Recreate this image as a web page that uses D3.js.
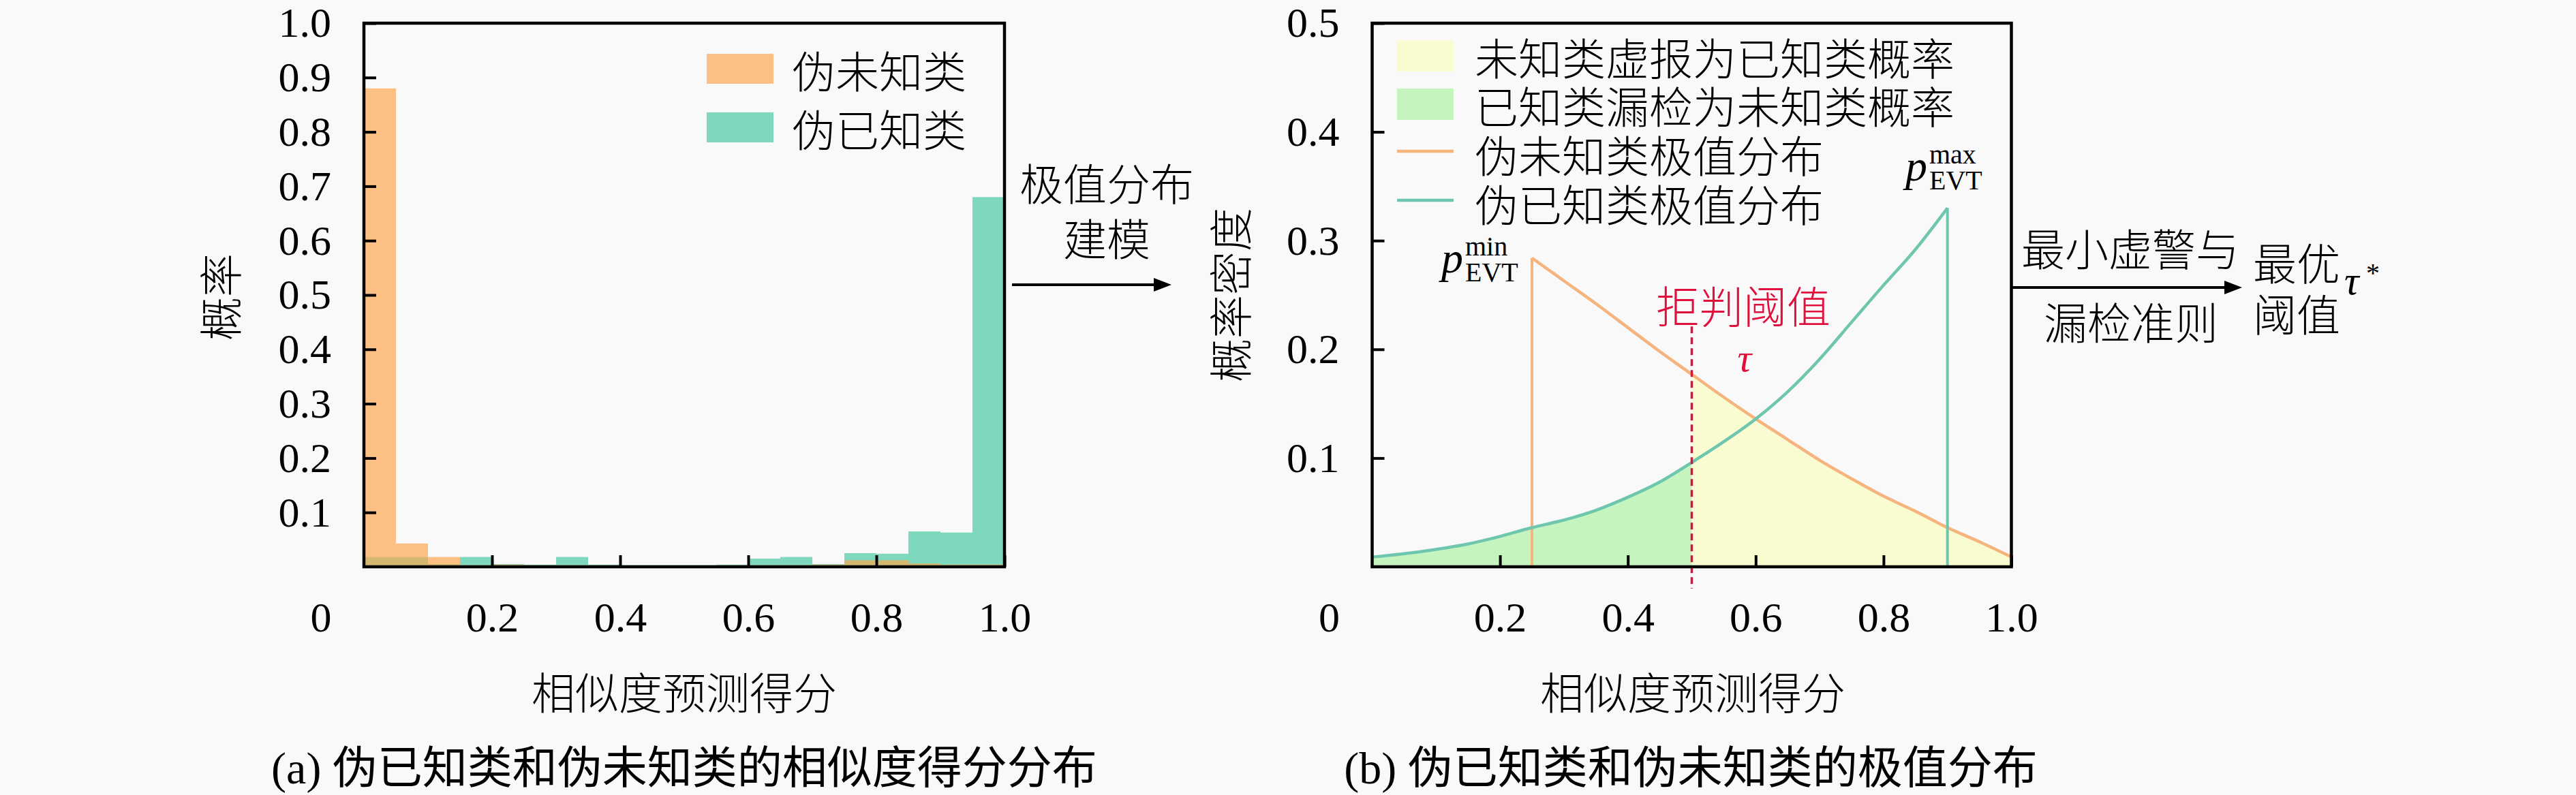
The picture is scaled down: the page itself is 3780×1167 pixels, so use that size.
<!DOCTYPE html>
<html><head><meta charset="utf-8">
<script src="https://cdn.jsdelivr.net/npm/d3@7"></script>
<style>
html,body{margin:0;padding:0;background:#f9f9f9;}
svg{display:block;}
.num{font-family:"Liberation Serif","DejaVu Serif",serif;}
.cjk{font-family:"Noto Sans CJK SC",sans-serif;font-weight:300;}
</style></head>
<body>
<svg id="chart" width="3780" height="1167"></svg>
<script>
// ---------- data ----------
const binStarts = [0,0.05,0.1,0.15,0.2,0.25,0.3,0.35,0.4,0.45,0.5,0.55,0.6,0.65,0.7,0.75,0.8,0.85,0.9,0.95];
const binWidth = 0.05;
const pseudoUnknownHist = [0.88,0.043,0.018,0.003,0.004,0.003,0.003,0.003,0.002,0.002,0.002,0.003,0.003,0.003,0.004,0.012,0.012,0.006,0.004,0.004];
const pseudoKnownHist   = [0.018,0.018,0.005,0.018,0.005,0.004,0.018,0.004,0.003,0.003,0.003,0.004,0.015,0.018,0.005,0.025,0.024,0.065,0.063,0.68];

const unknownEvtX = [0.25,0.3,0.35,0.4,0.45,0.5,0.55,0.6,0.65,0.7,0.75,0.8,0.85,0.9,0.95,1.0];
const unknownEvtY = [0.284,0.263,0.242,0.220,0.198,0.177,0.156,0.136,0.117,0.098,0.081,0.065,0.051,0.036,0.023,0.009];
const knownEvtX = [0,0.05,0.1,0.15,0.2,0.25,0.3,0.35,0.4,0.45,0.5,0.55,0.6,0.65,0.7,0.75,0.8,0.85,0.9];
const knownEvtY = [0.009,0.012,0.016,0.021,0.028,0.036,0.043,0.052,0.064,0.078,0.096,0.115,0.136,0.161,0.191,0.225,0.259,0.292,0.330];
const tau = 0.5;

const xTicks = [0.2,0.4,0.6,0.8,1.0];
const yTicksA = [0.1,0.2,0.3,0.4,0.5,0.6,0.7,0.8,0.9,1.0];
const yTicksB = [0.1,0.2,0.3,0.4,0.5];

const legendA = ["伪未知类","伪已知类"];
const legendB = ["未知类虚报为已知类概率","已知类漏检为未知类概率","伪未知类极值分布","伪已知类极值分布"];

// ---------- styles ----------
const C = {
  orange:"#fea54c", orangeOp:0.68,
  teal:"#5fcfae", tealOp:0.8,
  lineOrange:"#f5b47e", lineTeal:"#6fc6ae",
  fillYellow:"#f9fbd0", fillGreen:"#c6f4bf",
  red:"#e0103c"
};
const FS_CJK = 64, FS_NUM = 62;

const svg = d3.select("#chart");
svg.append("rect").attr("width",3780).attr("height",1167).attr("fill","#f9f9f9");

function fmt(d){ return d===1 ? "1.0" : d3.format(".1f")(d); }

function frame(g, x, y){
  const [x0,x1] = x.range(), [y0,y1] = y.range();
  g.append("rect").attr("x",x0).attr("y",y1).attr("width",x1-x0).attr("height",y0-y1)
    .attr("fill","none").attr("stroke","#000").attr("stroke-width",4.5);
}
function axes(g, x, y, yt){
  const ax = g.append("g").attr("transform",`translate(0,${y.range()[0]})`)
    .call(d3.axisBottom(x).tickValues(xTicks).tickSize(-17).tickPadding(51).tickFormat(fmt));
  const ay = g.append("g").attr("transform",`translate(${x.range()[0]},0)`)
    .call(d3.axisLeft(y).tickValues(yt).tickSize(-18).tickPadding(48).tickFormat(fmt));
  [ax,ay].forEach(a=>{
    a.select(".domain").remove();
    a.selectAll("line").attr("stroke","#000").attr("stroke-width",4);
    a.selectAll("text").attr("class","num").attr("font-size",FS_NUM).attr("fill","#000");
  });
  // origin label
  g.append("text").attr("class","num").attr("font-size",FS_NUM)
    .attr("x",x.range()[0]-63).attr("y",927).attr("text-anchor","middle").text("0");
}

// ---------- chart (a) ----------
const xA = d3.scaleLinear().domain([0,1]).range([534,1474]);
const yA = d3.scaleLinear().domain([0,1]).range([832,34]);
const gA = svg.append("g");

gA.selectAll("rect.known").data(binStarts).join("rect").attr("class","known")
  .attr("x",d=>xA(d)).attr("width",d=>xA(d+binWidth)-xA(d))
  .attr("y",(d,i)=>yA(pseudoKnownHist[i])).attr("height",(d,i)=>yA(0)-yA(pseudoKnownHist[i]))
  .attr("fill",C.teal).attr("fill-opacity",C.tealOp);
gA.selectAll("rect.unk").data(binStarts).join("rect").attr("class","unk")
  .attr("x",d=>xA(d)).attr("width",d=>xA(d+binWidth)-xA(d))
  .attr("y",(d,i)=>yA(pseudoUnknownHist[i])).attr("height",(d,i)=>yA(0)-yA(pseudoUnknownHist[i]))
  .attr("fill",C.orange).attr("fill-opacity",C.orangeOp);

axes(gA,xA,yA,yTicksA);
frame(gA,xA,yA);

// legend a
const legA = gA.append("g");
legendA.forEach((t,i)=>{
  const cy = 101 + i*86;
  legA.append("rect").attr("x",1037).attr("y",cy-22).attr("width",98).attr("height",44)
    .attr("fill", i===0?C.orange:C.teal).attr("fill-opacity", i===0?C.orangeOp:C.tealOp);
  legA.append("text").attr("class","cjk").attr("font-size",FS_CJK).attr("x",1162).attr("y",cy)
    .attr("dominant-baseline","central").text(t);
});

gA.append("text").attr("class","cjk").attr("font-size",FS_CJK)
  .attr("transform","translate(320,436) rotate(-90)").attr("text-anchor","middle")
  .attr("dominant-baseline","central").text("概率");
gA.append("text").attr("class","cjk").attr("font-size",FS_CJK).attr("x",1004).attr("y",1013)
  .attr("text-anchor","middle").attr("dominant-baseline","central").text("相似度预测得分");
gA.append("text").attr("font-size",66).attr("font-family","'Liberation Serif','Noto Sans CJK SC',serif")
  .attr("x",1004).attr("y",1127).attr("text-anchor","middle").attr("dominant-baseline","central")
  .text("(a) 伪已知类和伪未知类的相似度得分分布");

// ---------- chart (b) ----------
const xB = d3.scaleLinear().domain([0,1]).range([2013.5,2951.5]);
const yB = d3.scaleLinear().domain([0,0.5]).range([832,34]);
const gB = svg.append("g");

const knownPts = knownEvtX.map((x,i)=>[x,knownEvtY[i]]);
const unkPts = unknownEvtX.map((x,i)=>[x,unknownEvtY[i]]);
const curve = d3.curveMonotoneX;

// green fill: known curve from 0 to tau
const greenPts = knownPts.filter(p=>p[0]<=tau);
gB.append("path").datum(greenPts)
  .attr("d", d3.area().x(d=>xB(d[0])).y0(yB(0)).y1(d=>yB(d[1])).curve(curve))
  .attr("fill",C.fillGreen);
// yellow fill: unknown curve from tau to 1
const yellowPts = unkPts.filter(p=>p[0]>=tau);
gB.append("path").datum(yellowPts)
  .attr("d", d3.area().x(d=>xB(d[0])).y0(yB(0)).y1(d=>yB(d[1])).curve(curve))
  .attr("fill",C.fillYellow);

const line = d3.line().x(d=>xB(d[0])).y(d=>yB(d[1])).curve(curve);
// orange EVT line
gB.append("line").attr("x1",xB(unkPts[0][0])).attr("x2",xB(unkPts[0][0]))
  .attr("y1",yB(0)).attr("y2",yB(unkPts[0][1])).attr("stroke",C.lineOrange).attr("stroke-width",4);
gB.append("path").datum(unkPts).attr("d",line).attr("fill","none")
  .attr("stroke",C.lineOrange).attr("stroke-width",4.5);
// teal EVT line
const lastK = knownPts[knownPts.length-1];
gB.append("path").datum(knownPts).attr("d",line).attr("fill","none")
  .attr("stroke",C.lineTeal).attr("stroke-width",4.5);
gB.append("line").attr("x1",xB(lastK[0])).attr("x2",xB(lastK[0]))
  .attr("y1",yB(0)).attr("y2",yB(lastK[1])).attr("stroke",C.lineTeal).attr("stroke-width",4);

// tau line
gB.append("line").attr("x1",xB(tau)).attr("x2",xB(tau)).attr("y1",yB(0.221)).attr("y2",864)
  .attr("stroke",C.red).attr("stroke-width",3.5).attr("stroke-dasharray","10,6");

axes(gB,xB,yB,yTicksB);
frame(gB,xB,yB);

// legend b
const legB = gB.append("g");
legendB.forEach((t,i)=>{
  const cy = [82,153,225,297][i];
  if(i<2){
    legB.append("rect").attr("x",2050).attr("y",cy-23).attr("width",83).attr("height",46)
      .attr("fill", i===0?C.fillYellow:C.fillGreen);
  } else {
    legB.append("line").attr("x1",2050).attr("x2",2133).attr("y1",cy-3).attr("y2",cy-3)
      .attr("stroke", i===2?C.lineOrange:C.lineTeal).attr("stroke-width",4.5);
  }
  legB.append("text").attr("class","cjk").attr("font-size",FS_CJK).attr("x",2164).attr("y",cy)
    .attr("dominant-baseline","central").text(t);
});

// p_EVT annotations
function pEvt(x, base, sup){
  gB.append("text").attr("class","num").attr("font-style","italic").attr("font-size",64)
    .attr("x",x).attr("y",base).text("p");
  gB.append("text").attr("class","num").attr("font-size",40).attr("x",x+35).attr("y",base-25).text(sup);
  gB.append("text").attr("class","num").attr("font-size",40).attr("x",x+35).attr("y",base+13).text("EVT");
}
pEvt(2115,400,"min");
pEvt(2796,265,"max");

gB.append("text").attr("class","cjk").attr("font-size",FS_CJK).attr("fill",C.red)
  .attr("x",2558).attr("y",446).attr("text-anchor","middle").attr("dominant-baseline","central").text("拒判阈值");
gB.append("text").attr("class","num").attr("font-style","italic").attr("font-size",58).attr("fill",C.red)
  .attr("x",2560).attr("y",545).attr("text-anchor","middle").text("τ");

gB.append("text").attr("class","cjk").attr("font-size",FS_CJK)
  .attr("transform","translate(1802,433) rotate(-90)").attr("text-anchor","middle")
  .attr("dominant-baseline","central").text("概率密度");
gB.append("text").attr("class","cjk").attr("font-size",FS_CJK).attr("x",2484).attr("y",1013)
  .attr("text-anchor","middle").attr("dominant-baseline","central").text("相似度预测得分");
gB.append("text").attr("font-size",66).attr("font-family","'Liberation Serif','Noto Sans CJK SC',serif")
  .attr("x",2481).attr("y",1127).attr("text-anchor","middle").attr("dominant-baseline","central")
  .text("(b) 伪已知类和伪未知类的极值分布");

// ---------- flow annotations ----------
const gF = svg.append("g");
function arrow(x0,x1,y){
  gF.append("line").attr("x1",x0).attr("x2",x1-20).attr("y1",y).attr("y2",y)
    .attr("stroke","#000").attr("stroke-width",4);
  gF.append("path").attr("d",`M${x1},${y} L${x1-26},${y-10} L${x1-26},${y+10} Z`).attr("fill","#000");
}
arrow(1485,1719,418);
arrow(2952,3290,422);
function cjk(t,x,y){
  gF.append("text").attr("class","cjk").attr("font-size",FS_CJK).attr("x",x).attr("y",y)
    .attr("text-anchor","middle").attr("dominant-baseline","central").text(t);
}
cjk("极值分布",1624,266);
cjk("建模",1624,347);
cjk("最小虚警与",3126,362);
cjk("漏检准则",3127,470);
cjk("最优",3370,383);
cjk("阈值",3370,458);
gF.append("text").attr("class","num").attr("font-style","italic").attr("font-size",60)
  .attr("x",3440).attr("y",432).text("τ");
gF.append("text").attr("class","num").attr("font-size",40)
  .attr("x",3472).attr("y",414).text("*");
</script>
</body></html>
